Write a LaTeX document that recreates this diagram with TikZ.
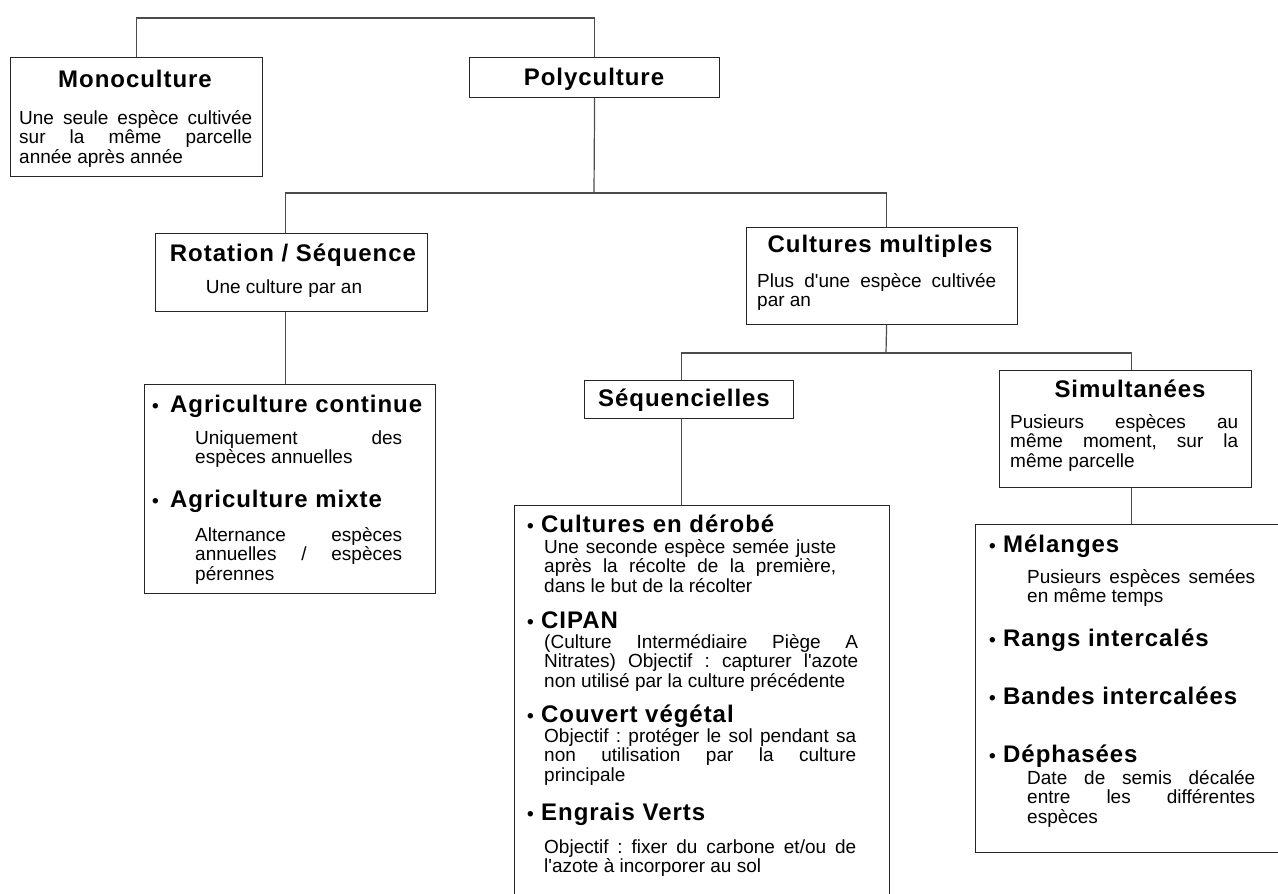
\documentclass[tikz,border=0pt]{standalone}
\usepackage{fontspec}
\setmainfont{Liberation Sans}[Ligatures=TeXOff]
\newfontfamily\headfam{Liberation Sans}[LetterSpace=4]
\newcommand{\titlefont}{\headfam\bfseries\fontsize{24}{26}\selectfont}
\newcommand{\bodyfont}{\normalfont\fontsize{19}{19.5}\selectfont}
% bullet set in the body face, then the bold heading
\newcommand{\itm}[2][14pt]{\makebox[#1][l]{\bodyfont\bfseries\textbullet}#2}
\tolerance=10000
\hbadness=10000
\hyphenpenalty=10000
\parindent=0pt
\frenchspacing

\begin{document}
\begin{tikzpicture}[x=1pt, y=-1pt,
  box/.style={draw=black!85, line width=1.2pt, anchor=north west, inner sep=0pt},
  link/.style={draw=black!70, line width=1.2pt},
  head/.style={anchor=base, inner sep=0pt, font=\titlefont},
  itemhead/.style={anchor=base west, inner sep=0pt, font=\titlefont},
  txt/.style={anchor=base west, inner sep=0pt, font=\bodyfont, align=justify}]
  \useasboundingbox (0,0) rectangle (1278,894);
  \clip (0,0) rectangle (1278,894);

  % frames
  \node[box, minimum width=252, minimum height=119] (mono) at (10,57) {};
  \node[box, minimum width=250, minimum height=40] (poly) at (469,57) {};
  \node[box, minimum width=272, minimum height=78] (rot) at (155,233) {};
  \node[box, minimum width=291, minimum height=209] (agri) at (144,384) {};
  \node[box, minimum width=271, minimum height=97] (multi) at (746,227) {};
  \node[box, minimum width=209, minimum height=38] (seq) at (584,380) {};
  \node[box, minimum width=375, minimum height=420] (seqlist) at (514,505) {};
  \node[box, minimum width=252, minimum height=117] (sim) at (999,370) {};
  \node[box, minimum width=315, minimum height=328] (simlist) at (975,524) {};

  % connectors
  \coordinate (topbus) at (369,18);
  \coordinate (bus1) at (594,193);
  \coordinate (bus2) at (886,353);
  \coordinate (rotdrop) at ([xshift=-6pt]rot.south);
  \coordinate (seqdrop) at ([xshift=-7.5pt]seq.south);
  \coordinate (simdrop) at ([xshift=6pt]sim.south);
  \draw[link] (mono.north) |- (topbus) -| (poly.north);
  \draw[link] (poly.south) -- (bus1);
  \draw[link] ([xshift=-6pt]rot.north) |- (bus1) -| ([xshift=4.5pt]multi.north);
  \draw[link] (rotdrop) -- (rotdrop |- agri.north);
  \draw[link] ([xshift=4.5pt]multi.south) -- (bus2);
  \draw[link] ([xshift=-7.5pt]seq.north) |- (bus2) -| ([xshift=6pt]sim.north);
  \draw[link] (seqdrop) -- (seqdrop |- seqlist.north);
  \draw[link] (simdrop) -- (simdrop |- simlist.north);

  % top level
  \node[head] (monoT) at (135,87) {Monoculture};
  \node[txt, text width=233] (monoB) at (19,124)
    {Une seule espèce cultivée\linebreak sur la même parcelle\linebreak année après année};
  \node[head] (polyT) at (594,85) {Polyculture};

  % rotation branch
  \node[head] (rotT) at (293,261) {Rotation / Séquence};
  \node[anchor=base, inner sep=0pt, font=\bodyfont] (rotB) at (284,293) {Une culture par an};
  \node[itemhead] (agriA) at (152,412) {\itm[18pt]{Agriculture continue}};
  \node[txt, text width=207] (agriAB) at (195,444) {Uniquement des\linebreak espèces annuelles};
  \node[itemhead] (agriM) at (152,507) {\itm[18pt]{Agriculture mixte}};
  \node[txt, text width=207] (agriMB) at (195,541)
    {Alternance espèces\linebreak annuelles / espèces\linebreak pérennes};

  % multiple crops branch
  \node[head] (multiT) at (880,252) {Cultures multiples};
  \node[txt, text width=239] (multiB) at (757,287) {Plus d'une espèce cultivée\linebreak par an};
  \node[head] (seqT) at (684,406) {Séquencielles};
  \node[head] (simT) at (1130,397) {Simultanées};
  \node[txt, text width=228] (simB) at (1010,428)
    {Pusieurs espèces au\linebreak même moment, sur la\linebreak même parcelle};

  % sequential list
  \node[itemhead] (derobe) at (527,532) {\itm{Cultures en dérobé}};
  \node[txt, text width=292] (derobeB) at (544,553)
    {Une seconde espèce semée juste\linebreak après la récolte de la première,\linebreak dans le but de la récolter};
  \node[itemhead] (cipan) at (527,628) {\itm{CIPAN}};
  \node[txt, text width=314] (cipanB) at (544,648)
    {(Culture Intermédiaire Piège A\linebreak Nitrates) Objectif : capturer l'azote\linebreak non utilisé par la culture précédente};
  \node[itemhead] (couvert) at (527,722) {\itm{Couvert végétal}};
  \node[txt, text width=312] (couvertB) at (544,742)
    {Objectif : protéger le sol pendant sa\linebreak non utilisation par la culture\linebreak principale};
  \node[itemhead] (engrais) at (527,820) {\itm{Engrais Verts}};
  \node[txt, text width=312] (engraisB) at (544,853)
    {Objectif : fixer du carbone et/ou de\linebreak l'azote à incorporer au sol};

  % simultaneous list
  \node[itemhead] (melange) at (989,552) {\itm{Mélanges}};
  \node[txt, text width=228] (melangeB) at (1027,583) {Pusieurs espèces semées\linebreak en même temps};
  \node[itemhead] (rangs) at (989,646) {\itm{Rangs intercalés}};
  \node[itemhead] (bandes) at (989,704) {\itm{Bandes intercalées}};
  \node[itemhead] (dephase) at (989,762) {\itm{Déphasées}};
  \node[txt, text width=228] (dephaseB) at (1027,784)
    {Date de semis décalée\linebreak entre les différentes\linebreak espèces};
\end{tikzpicture}
\end{document}
